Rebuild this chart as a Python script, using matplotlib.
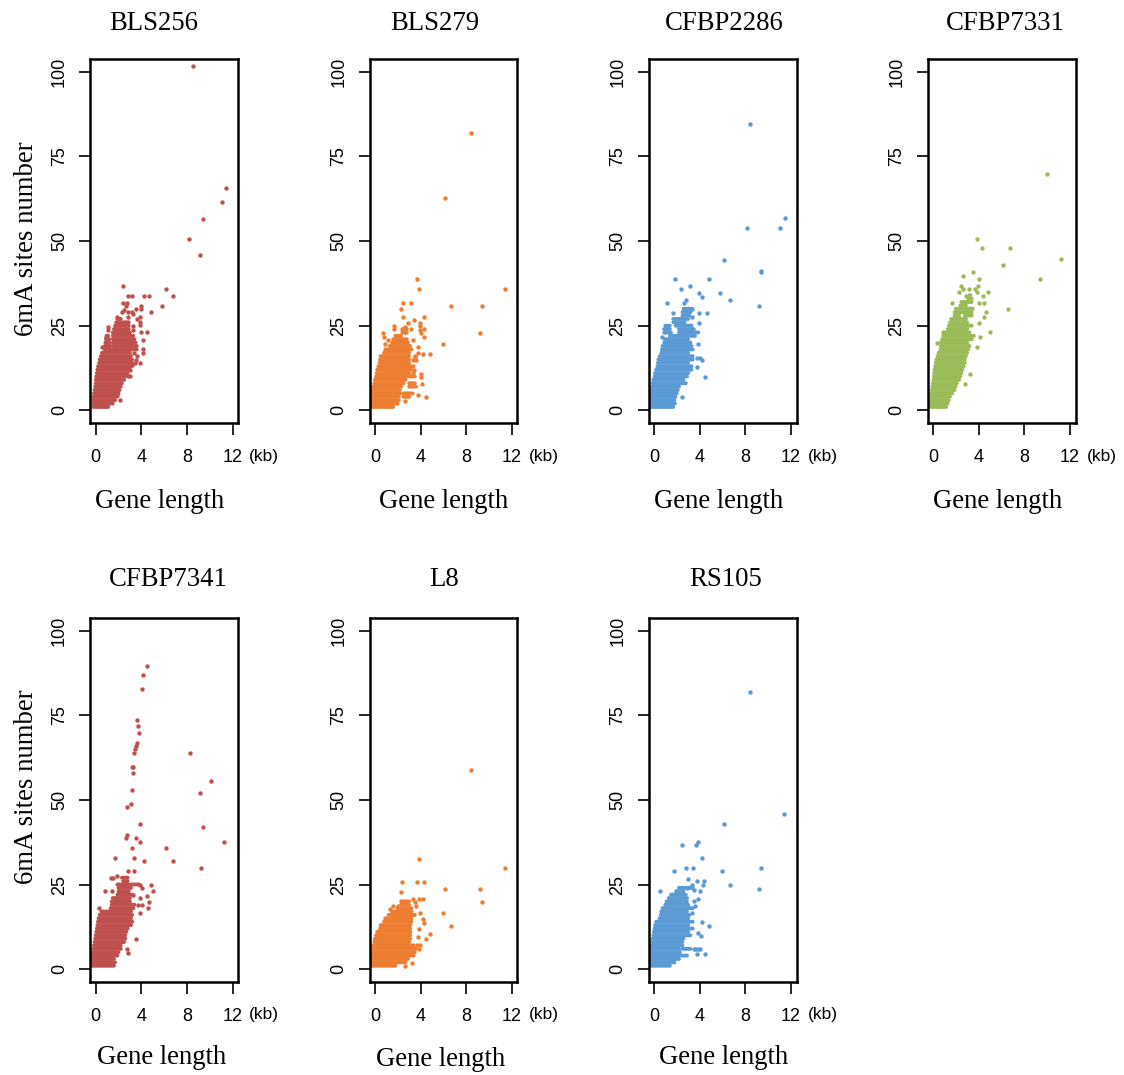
import matplotlib
matplotlib.use('Agg')
import matplotlib.pyplot as plt

# solid part of each cloud: one span of gene length per site count
# loose dots: x = gene length in kb, y = 6mA sites
bls256_rows = [1,2,3,4,5,6,7,8,9,10,11,12,13,14,15,16,17,18,19,20,21,22,23,24,25,26,27,18,19,20,21,22]
bls256_lo = [-.2,-.2,-.2,-.2,-.15,-.1,-.05,0,0,.05,.1,.15,.2,.3,.35,.45,.55,1.5,1.5,1.5,1.5,1.5,1.5,1.6,1.7,1.8,1.9,.8,.8,.85,.9,.95]
bls256_hi = [1.1,1.5,1.7,1.9,2.0,2.1,2.2,2.3,2.5,2.6,2.8,3.0,3.1,3.2,3.2,3.1,3.0,3.6,3.6,3.5,3.4,3.3,3.0,2.9,2.9,2.9,2.2,1.3,1.3,1.2,1.2,1.1]
bls256_x = [8.48,11.4,11.05,9.4,8.17,9.13,2.42,6.12,6.73,5.83,4.81,4.26,4.64,2.86,3.2,2.42,2.71,2.65,3.94,3.94,3.5,3.15,2.28,2.86,3.59,3.88,3.88,3.88,3.3,3.3,3.97,4.46,4.17,1.1,1.1,1.9,2.86,.9,.52,4.11,4.11,3.88,3.47,3.15,3,2.13,1.83,2.5,3.3,3.4,3.6,3.5,3.0,2.8]
bls256_y = [101.8,65.7,61.6,56.5,50.6,45.9,36.7,35.9,33.7,30.8,29,33.7,33.7,33.7,33.7,31.8,31.8,30.8,30.8,29.9,29.9,29,29,29,26.9,27.5,26.2,25.2,24.9,23.7,23,23,20.8,24.7,23.7,27.5,27.7,21.6,18.8,18.1,16.8,13.9,13.9,13.4,10,2.9,4.5,29.5,28.5,17,16,15,12,10]

bls279_rows = [1,2,3,4,5,6,7,8,9,10,11,12,13,14,15,16,17,18,19,20,21,22,23,24,7,8,10,5,4]
bls279_lo = [-.3,-.3,-.3,-.3,-.25,-.2,-.15,-.05,0,.1,.15,.2,.3,.4,.45,.5,.8,1.1,1.3,1.5,1.6,1.8,2.4,2.5,3.0,3.0,3.0,2.5,2.5]
bls279_hi = [1.6,2.0,2.1,2.1,2.2,2.2,2.3,2.5,2.7,2.8,3.0,3.2,3.4,3.0,3.0,3.0,3.0,3.2,3.1,2.9,2.8,2.3,2.8,2.8,3.6,3.5,3.5,3.3,3.0]
bls279_x = [8.4,6.13,3.67,3.9,11.43,6.65,9.39,2.42,3.2,2.3,2.48,4.34,2.94,3.47,3.94,3.94,3.94,4.08,4.26,9.21,4.31,5.98,1.69,1.69,.73,.82,2.68,2.35,2.65,3.2,3.35,1.17,.93,3.79,.87,4.2,4.81,3.79,3.5,3.35,4.08,4.08,4.14,3.79,4.49,2.62,3.5,3.6,3.4,3.3]
bls279_y = [82,62.7,38.7,35.8,35.8,30.8,30.8,31.8,31.8,29.8,27.6,27.6,25.9,26.7,25.9,24.9,23.7,22.9,23.9,22.9,21.7,19.7,24.9,23.9,22.9,21.7,24.7,23.9,23.2,23.9,20.7,20.7,19.7,18.8,18,16.6,16.6,16.8,15.8,14.8,10.7,9.7,7.7,4.6,3.8,2.8,16,15,12,11]

cfbp2286_rows = [1,2,3,4,5,6,7,8,9,10,11,12,13,14,15,16,17,18,19,20,21,22,23,24,25,26,27,28,29,30,23,24,25]
cfbp2286_lo = [-.3,-.3,-.3,-.3,-.25,-.2,-.15,-.1,-.05,.05,.1,.2,.3,.35,.4,.5,.65,.7,.75,.9,.95,1.4,2.2,2.2,1.9,1.7,1.7,2.5,2.5,2.6,1.0,.9,1.0]
cfbp2286_hi = [1.7,1.85,1.8,1.9,2.0,2.1,2.2,2.8,2.6,2.9,3.0,3.3,3.3,3.0,3.4,3.4,3.0,3.4,3.3,3.2,3.0,3.6,3.9,3.5,3.3,2.7,3.0,3.1,3.2,3.3,1.5,1.4,1.4]
cfbp2286_x = [8.4,8.14,11.03,11.47,9.37,6.12,9.39,1.87,4.81,2.39,3.2,3.94,5.83,4.23,6.68,9.21,1.11,2.77,2.68,1.69,3.99,4.61,3.32,2.62,3.32,3.94,3.85,4.08,3.79,4.23,3.79,4.49,2.5,.73,.87,1.1]
cfbp2286_y = [84.6,53.9,53.9,56.8,41.2,44.4,40.9,38.7,38.7,35.8,36.8,34.8,34.8,33.6,32.7,30.8,31.8,32.6,31.8,28.9,28.9,28.9,29.8,29.8,27.6,25.9,19.7,15.6,15.6,14.8,12.8,9.7,3.8,21.7,23.2,24.9]

cfbp7331_rows = [1,2,3,4,5,6,7,8,9,10,11,12,13,14,15,16,17,18,19,20,21,22,23,24,25,26,27,28,29,30,31,32,33,34,28]
cfbp7331_lo = [-.3,-.3,-.25,-.2,-.15,-.1,-.05,0,.05,.1,.1,.15,.2,.25,.3,.4,.5,.65,.7,.7,.8,.9,1.0,1.3,1.4,1.5,1.6,1.9,1.9,2.0,2.4,2.5,3.1,3.2,2.8]
cfbp7331_hi = [1.17,1.3,1.4,1.5,1.7,1.9,2.0,2.1,2.3,2.4,2.5,2.6,2.7,2.8,2.8,2.9,3.0,3.1,3.2,3.0,3.4,3.6,3.2,3.0,3.4,3.0,2.9,2.3,3.4,3.5,2.9,3.4,3.4,3.3,3.4]
cfbp7331_x = [9.98,3.85,4.26,6.79,6.15,11.22,9.39,6.59,2.62,3.5,4.02,3.97,3.73,3.2,2.68,2.42,2.27,3.88,4.81,2.86,4.37,1.69,4.08,4.49,4.66,4.52,4.02,5.01,4.14,3.88,.35,.93,3.29,2.8]
cfbp7331_y = [69.8,50.6,47.9,47.9,42.8,44.6,38.7,29.9,39.7,40.8,38.7,36.8,35.8,35.8,35.8,36.8,35,35,35,33.8,33.8,31.8,31.8,31.8,29,27.7,25.7,23,21.8,18.8,19.8,23,10.7,7.8]

cfbp7341_rows = [1,2,3,4,5,6,7,8,9,10,11,12,13,14,15,16,17,18,19,20,21,22,23,24,25,26,27,25]
cfbp7341_lo = [-.35,-.35,-.3,-.3,-.25,-.2,-.15,-.1,-.05,0,.05,.1,.15,.2,.25,.35,.5,1.3,1.4,1.4,1.5,1.9,2.0,2.0,1.9,2.4,2.3,3.0]
cfbp7341_hi = [1.6,1.7,1.6,1.9,2.0,2.2,2.2,2.5,2.6,2.6,2.7,2.8,3.1,3.2,3.1,3.2,3.1,3.3,3.4,3.0,3.0,3.2,2.9,3.1,2.8,2.8,2.8,3.8]
cfbp7341_x = [4.49,4.17,4.08,3.59,3.67,3.79,3.59,3.5,3.44,3.38,8.28,3.18,3.29,3.29,10.12,3.15,9.13,3.06,2.77,3.91,9.39,2.77,2.65,3.5,3.88,11.2,3.21,6.12,3.32,1.66,4.26,6.79,9.21,2.8,3.35,1.84,1.34,1.55,4.81,4.99,4.49,4.66,4.61,3.91,4.02,3.73,.82,.32,1.46,3.5,2.71,2.8,3.88,4.02,3.24,3.88]
cfbp7341_y = [89.7,86.9,82.8,73.7,71.7,69.8,66.8,66,65,63.8,63.8,59.8,59.8,57.9,55.7,52.8,51.9,48.8,47.8,42.9,41.9,39.7,38.7,38.7,37.7,37.7,35.9,35.9,32.7,32.7,31.8,31.8,29.9,29,29,27.6,26.8,26.8,24.8,23,21.7,19.8,18,16.7,18.8,18.8,23,18,23,8.9,5.9,4.7,24.9,23.9,22,21]

l8_rows = [1,2,3,4,5,6,7,8,9,10,11,12,13,14,15,16,17,18,19,20]
l8_lo = [-.35,-.35,-.3,-.3,-.25,-.2,-.15,-.05,0,.1,.2,.45,.5,.8,.9,1.2,1.5,2.0,2.3,2.3]
l8_hi = [1.8,2.7,2.9,3.4,3.5,3.6,3.4,3.0,3.1,3.1,3.1,3.1,3.1,3.2,3.2,3.5,3.2,3.2,3.0,3.0]
l8_x = [8.4,3.9,2.39,3.67,4.34,11.43,6.12,9.21,9.39,2.27,5.98,6.65,3.97,4.81,4.49,3.88,3.79,4.2,4.31,3.35,3.5,3.64,3.85,4.23,1.6,1.31,2.04,0,3.29,2.62,3.9,3.7,3.95]
l8_y = [58.9,32.6,25.6,25.6,25.6,29.8,23.7,23.7,19.7,22.9,16.6,12.8,16.6,10.5,8.8,11.8,9.6,14.7,13.7,20.7,19.7,18.7,20.7,20.7,18.7,17.7,18.7,8.8,1.8,.9,6,7,7]

rs105_rows = [1,2,3,4,5,6,7,8,9,10,11,12,13,14,15,16,17,18,19,20,21,22,23,24,4,6]
rs105_lo = [-.35,-.35,-.3,-.3,-.3,-.25,-.2,-.15,-.1,-.05,0,.05,.1,.2,.5,.6,.65,.75,1.0,1.1,1.3,1.5,2.0,2.2,2.5,2.5]
rs105_hi = [1.4,1.8,2.2,2.3,2.3,2.2,2.5,2.5,2.6,3.2,3.0,3.4,3.0,3.4,3.0,3.1,2.9,3.4,3.0,2.9,2.9,2.8,2.6,3.4,2.9,3.2]
rs105_x = [8.4,6.12,11.43,2.42,3.67,3.9,4.23,1.72,2.77,3.47,5.98,9.39,6.65,9.21,.58,2.97,3.79,4.37,4.31,4.02,3.88,3.64,4.2,4.81,3.85,4.14,4.08,3.79,4.49,1.9,2.9,3.35,3.5,3.5,3.3,3.5,3.7,3.85]
rs105_y = [82,42.8,45.9,36.8,36.8,37.7,32.7,29,30,30,29,30,24.8,23.8,23,26.7,25.9,25.9,24.9,23,20.8,18.7,13.8,12.8,10.6,9.7,5.9,4.6,4.6,23,24,24.9,23.4,20,16.6,6,6,6]

titles = ['BLS256', 'BLS279', 'CFBP2286', 'CFBP7331', 'CFBP7341', 'L8', 'RS105']
colors = ['#C0504D', '#ED7D31', '#5B9BD5', '#9BBB59', '#C0504D', '#ED7D31', '#5B9BD5']
rows = [bls256_rows, bls279_rows, cfbp2286_rows, cfbp7331_rows, cfbp7341_rows, l8_rows, rs105_rows]
lows = [bls256_lo, bls279_lo, cfbp2286_lo, cfbp7331_lo, cfbp7341_lo, l8_lo, rs105_lo]
highs = [bls256_hi, bls279_hi, cfbp2286_hi, cfbp7331_hi, cfbp7341_hi, l8_hi, rs105_hi]
xs = [bls256_x, bls279_x, cfbp2286_x, cfbp7331_x, cfbp7341_x, l8_x, rs105_x]
ys = [bls256_y, bls279_y, cfbp2286_y, cfbp7331_y, cfbp7341_y, l8_y, rs105_y]

W = 1124
H = 1075
left_px = [90.3, 369.5, 648.5, 927.5, 90.3, 369.5, 648.5]
top_px = [58.7, 58.7, 58.7, 58.7, 617.5, 617.5, 617.5]
title_x = [154, 435, 724, 1005, 168, 444, 726]
title_y = [24, 24, 24, 24, 580, 580, 580]
glen_x = [160, 444, 719, 998, 162, 441, 724]
glen_y = [501, 501, 501, 501, 1057, 1059, 1057]
serif = 'Liberation Serif'
sans = 'Liberation Sans'

fig = plt.figure(figsize=(W / 100, H / 100), dpi=100)
for i in range(7):
    ax = fig.add_axes([left_px[i] / W, 1 - (top_px[i] + 364.6) / H, 148 / W, 364.6 / H])
    ax.hlines(rows[i], lows[i], highs[i], color=colors[i], lw=2.8, capstyle='round', snap=False)
    ax.scatter(xs[i], ys[i], s=10, color=colors[i], linewidths=0)
    ax.set_xlim(-0.47, 12.49)
    ax.set_ylim(-3.84, 103.9)
    ax.set_xticks([0, 4, 8, 12])
    ax.set_yticks([0, 25, 50, 75, 100])
    ax.tick_params(axis='x', length=8.5, width=1.2, pad=10, labelsize=13)
    ax.tick_params(axis='y', length=8, width=1.2, pad=8, labelsize=13)
    for lab in ax.get_xticklabels():
        lab.set_family(sans)
    for lab in ax.get_yticklabels():
        lab.set_family(sans)
        lab.set_rotation(90)
        lab.set_va('center')
    for sp in ax.spines.values():
        sp.set_linewidth(1.8)
    fig.text(title_x[i] / W, 1 - title_y[i] / H, titles[i], family=serif, fontsize=19.3, ha='center', va='center')
    fig.text(glen_x[i] / W, 1 - glen_y[i] / H, 'Gene length', family=serif, fontsize=19.2, ha='center', va='center')
    fig.text((left_px[i] + 174) / W, 1 - (top_px[i] + 397.5) / H, '(kb)', family=sans, fontsize=12.5, ha='center', va='center')

fig.text(27 / W, 1 - 239 / H, '6mA sites number', family=serif, fontsize=19.3, rotation=90, ha='center', va='center')
fig.text(27 / W, 1 - 787 / H, '6mA sites number', family=serif, fontsize=19.3, rotation=90, ha='center', va='center')

fig.savefig('out.png', dpi=100)
